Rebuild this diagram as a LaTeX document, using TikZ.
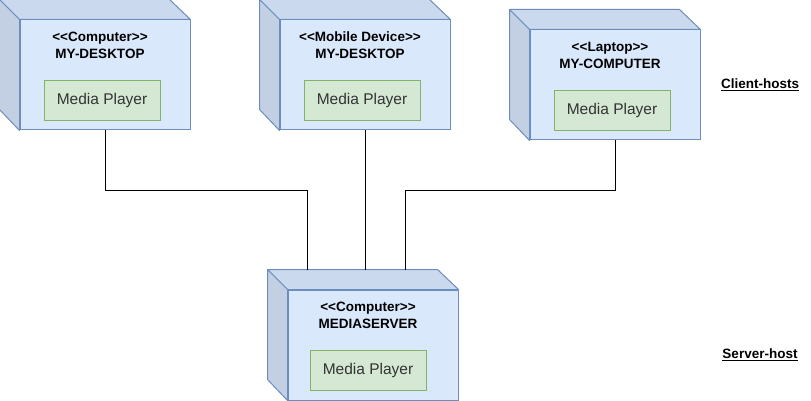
\documentclass[tikz,border=0pt]{standalone}
\usepackage{fontspec}
\setmainfont{Liberation Sans}
\usetikzlibrary{positioning, calc}

\definecolor{devfill}{HTML}{DAE8FC}
\definecolor{devline}{HTML}{6C8EBF}
\definecolor{devtop}{HTML}{CBD9EE}
\definecolor{devside}{HTML}{C3CFE3}
\definecolor{appfill}{HTML}{D5E8D4}
\definecolor{appline}{HTML}{82B366}
\definecolor{apptext}{HTML}{333333}

% stereotype brackets, kept as two plain < and >
\newcommand{\stereo}[1]{<\kern0pt<#1>\kern0pt>}

\begin{document}
\begin{tikzpicture}[
    x=1pt, y=-1pt,
    devface/.style={rectangle, draw=devline, fill=devfill, line width=1pt,
                    minimum width=170pt, minimum height=110pt, inner sep=0pt},
    depth/.style={draw=devline, line width=1pt, line join=round},
    devtitle/.style={font=\fontsize{13.5}{17}\selectfont\bfseries,
                     align=center, inner sep=0pt},
    app/.style={rectangle, draw=appline, fill=appfill, line width=1pt,
                minimum width=116pt, minimum height=40pt, text=apptext,
                font=\fontsize{15.5}{18}\selectfont},
    wire/.style={draw=black, line width=1pt},
    tier/.style={font=\fontsize{13.5}{16}\selectfont\bfseries}
]
  \useasboundingbox (0,0) rectangle (811,401);

  % --- client hosts (top row) ---
  \node[devface] (desk) at (105,75) {};
  \node[devface] (mobile) at (365,75) {};
  \node[devface] (laptop) at (615,85) {};

  % --- server host (bottom) ---
  \node[devface] (server) at (373,345) {};

  % depth faces of the boxes
  \foreach \n in {desk, mobile, laptop, server} {
    \filldraw[depth, fill=devtop] (\n.north west) -- ++(-20,-20) -- ++(170,0)
      -- (\n.north east) -- cycle;
    \filldraw[depth, fill=devside] (\n.north west) -- ++(-20,-20) -- ++(0,110)
      -- (\n.south west) -- cycle;
  }

  % titles
  \node[devtitle] (deskT) at ($(desk.north)+(-5,25.5)$) {\stereo{Computer}\\MY-DESKTOP};
  \node[devtitle] (mobileT) at ($(mobile.north)+(-5,25.5)$) {\stereo{Mobile Device}\\MY-DESKTOP};
  \node[devtitle] (laptopT) at ($(laptop.north)+(-5,25.5)$) {\stereo{Laptop}\\MY-COMPUTER};
  \node[devtitle] (serverT) at ($(server.north)+(-5,25.5)$) {\stereo{Computer}\\MEDIASERVER};

  % media players
  \node[app] (deskApp) at ($(desk.north)+(-3,81)$) {Media Player};
  \node[app] (mobileApp) at ($(mobile.north)+(-3,81)$) {Media Player};
  \node[app] (laptopApp) at ($(laptop.north)+(-3,81)$) {Media Player};
  \node[app] (serverApp) at ($(server.north)+(-5,81)$) {Media Player};

  % connection points on the server top
  \coordinate (srvL) at ($(server.north west)+(20,-20)$);
  \coordinate (srvM) at ($(server.north west)+(77,-20)$);
  \coordinate (srvR) at ($(server.north west)+(118,-20)$);

  \draw[wire] (desk.south) -- ++(0,60) -| (srvL);
  \draw[wire] (mobile.south) -- (mobile.south |- srvM);
  \draw[wire] (laptop.south) -- ++(0,50) -| (srvR);

  % tier labels
  \node[tier] (clientL) at (760,85) {\underline{Client-hosts}};
  \node[tier] (serverL) at (760,355) {\underline{Server-host}};

\end{tikzpicture}
\end{document}
